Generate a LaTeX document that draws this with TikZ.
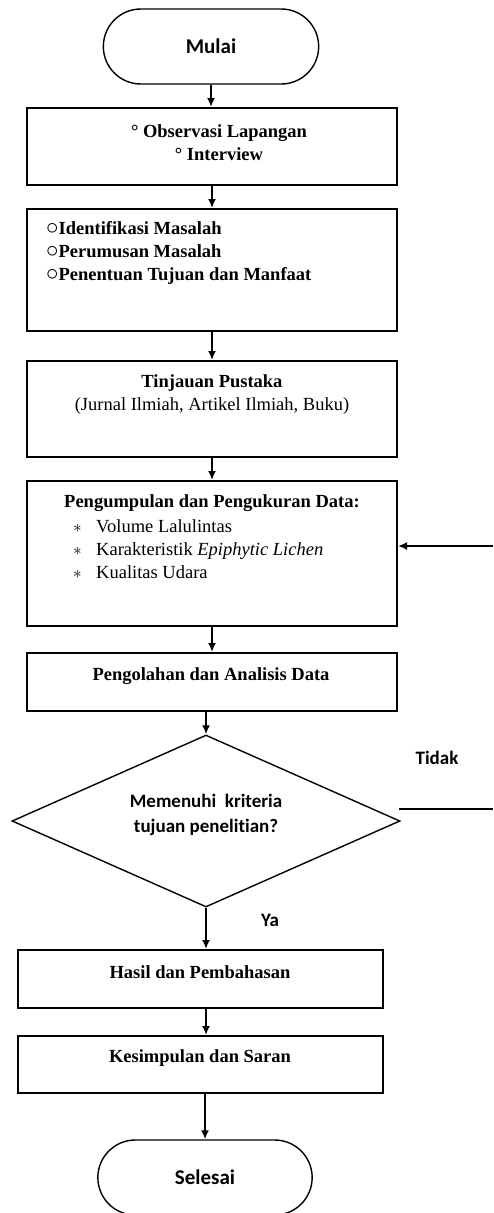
\documentclass[tikz,border=0pt]{standalone}
\usepackage{fontspec}
\setmainfont{Liberation Serif}
\newfontfamily\calibri[Ligatures=NoCommon]{Carlito}
\usetikzlibrary{shapes.geometric,shapes.misc,arrows.meta}
\newcommand{\bulat}{{\fontsize{24}{23}\selectfont$\circ$}}

\begin{document}
\begin{tikzpicture}[x=1pt,y=-1pt,
    term/.style={draw, rounded rectangle, line width=1.4pt, minimum width=222pt, minimum height=75pt, font=\calibri\bfseries\fontsize{21}{25}\selectfont},
    box/.style={draw, rectangle, line width=2pt, minimum width=370pt},
    txt/.style={font=\fontsize{18.5}{23}\selectfont, inner sep=0pt},
    bold/.style={font=\bfseries\fontsize{18.5}{23}\selectfont, inner sep=0pt},
    lbl/.style={font=\calibri\bfseries\fontsize{19}{25}\selectfont, inner sep=0pt},
    arr/.style={-{Latex[length=9pt,width=8pt]}, line width=2pt}]
            \clip (0,0) rectangle (493,1213);
            \node[term] (start) at (211,46.5) {Mulai};
            \node[box, minimum height=77pt] (b1) at (212,146.5) {};
            \node[bold, align=center] (b1txt) at (219,142.5) {° Observasi Lapangan\\° Interview};
            \node[box, minimum height=122pt] (b2) at (212,270) {};
            \node[bold, align=left, anchor=west] (b2txt) at (46,253) {\bulat Identifikasi Masalah\\\bulat Perumusan Masalah\\\bulat Penentuan Tujuan dan Manfaat};
            \node[box, minimum height=96pt] (b3) at (212,409) {};
            \node[txt, align=center] (b3txt) at (212,394.5) {\textbf{Tinjauan Pustaka}\\(Jurnal Ilmiah, Artikel Ilmiah, Buku)};
            \node[box, minimum height=145pt] (b4) at (212,553.5) {};
            \node[bold] (b4ttl) at (212,503) {Pengumpulan dan Pengukuran Data:};
            \node[txt, align=left, anchor=west] (b4lst) at (73,549.5) {\makebox[23pt][l]{$\ast$}Volume Lalulintas\\\makebox[23pt][l]{$\ast$}Karakteristik \textit{Epiphytic Lichen}\\\makebox[23pt][l]{$\ast$}Kualitas Udara};
            \node[box, minimum height=58pt] (b5) at (212,682) {};
            \node[bold] (b5txt) at (211,676) {Pengolahan dan Analisis Data};
            \node[draw, diamond, aspect=2.256, minimum width=388pt, minimum height=172pt, line width=1.4pt, inner sep=0pt] (dec) at (206,821) {};
            \node[lbl, align=center] (dectxt) at (206,814.5) {Memenuhi~~kriteria\\tujuan penelitian?};
            \node[lbl] (tidak) at (437,758) {Tidak};
            \node[lbl] (ya) at (270,920) {Ya};
            \node[box, minimum width=365pt, minimum height=58pt] (b6) at (200.5,979) {};
            \node[bold] (b6txt) at (200,972) {Hasil dan Pembahasan};
            \node[box, minimum width=365pt, minimum height=57pt] (b7) at (200.5,1064.5) {};
            \node[bold] (b7txt) at (200,1058) {Kesimpulan dan Saran};
            \node[term, minimum width=221pt] (stop) at (205,1177.5) {Selesai};
            \coordinate (noL) at (399,809);
            \coordinate (noR) at (493,809);
            \coordinate (back) at (493,546);
            % alur utama
            \draw[arr] (start.south) -- (start.south |- b1.north);
            \draw[arr] (b1) -- (b2);
            \draw[arr] (b2) -- (b3);
            \draw[arr] (b3) -- (b4);
            \draw[arr] (b4) -- (b5);
            \draw[arr] (dec.north |- b5.south) -- (dec.north);
            \draw[arr] (dec.south) -- (dec.south |- b6.north);
            \draw[arr] (dec.south |- b6.south) -- (dec.south |- b7.north);
            \draw[arr] (stop.north |- b7.south) -- (stop.north);
            % kembali (Tidak)
            \draw[line width=2pt] (noL) -- (noR);
            \draw[arr] (back) -- (back -| b4.east);
        \end{tikzpicture}
\end{document}
